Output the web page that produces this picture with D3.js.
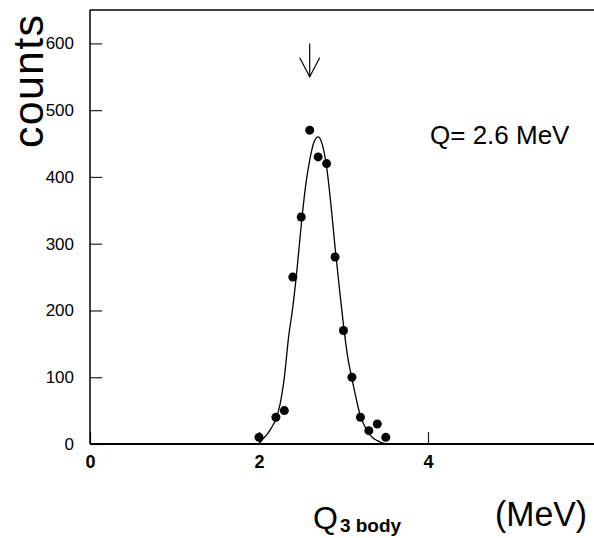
<!DOCTYPE html>
<html>
<head>
<meta charset="utf-8">
<script src="https://cdn.jsdelivr.net/npm/d3@7"></script>
<style>
  html, body { margin: 0; padding: 0; background: #fff; }
  svg { display: block; }
  text { font-family: "Liberation Sans", Arial, sans-serif; fill: #000; }
</style>
</head>
<body>
<svg id="chart" width="594" height="538"></svg>
<script>
// Measured counts per Q bin (MeV)
const qValues   = [2.0, 2.2, 2.3, 2.4, 2.5, 2.6, 2.7, 2.8, 2.9, 3.0, 3.1, 3.2, 3.3, 3.4, 3.5];
const counts    = [10, 40, 50, 250, 340, 470, 430, 420, 280, 170, 100, 40, 20, 30, 10];

// Fitted peak shape, sampled along Q
const fitQ      = [2.00, 2.05, 2.10, 2.15, 2.20, 2.25, 2.30, 2.35, 2.40, 2.45, 2.50, 2.55, 2.60, 2.65, 2.70,
                   2.75, 2.80, 2.85, 2.90, 2.95, 3.00, 3.05, 3.10, 3.15, 3.20, 3.25, 3.30, 3.35, 3.40, 3.45, 3.50];
const fitCounts = [0, 8, 15, 25, 37, 60, 100, 160, 205, 262, 328, 385, 425, 452, 460,
                   448, 415, 360, 295, 235, 178, 130, 98, 68, 42, 27, 16, 9, 5, 2, 0];

// Axis ticks
const xMajorTicks = [0, 2, 4];
const xMinorTicks = [0.5, 1, 1.5, 2.5, 3, 3.5, 4.5, 5, 5.5];
const yMajorTicks = [0, 100, 200, 300, 400, 500, 600];
const yMinorTicks = d3.range(20, 650, 20).filter(v => v % 100 !== 0);

// Marked Q value
const qMarked = 2.6;
const qLabel = "Q= 2.6 MeV";

const svg = d3.select("#chart");
const x = d3.scaleLinear().domain([0, 6]).range([90, 597]);
const y = d3.scaleLinear().domain([0, 650]).range([444, 10]);

// Axes: ticks point inward
const gx = svg.append("g").attr("transform", `translate(0,${y(0)})`);
gx.call(d3.axisBottom(x).tickValues(xMinorTicks).tickSize(-6).tickFormat(""));
gx.call(d3.axisBottom(x).tickValues(xMajorTicks).tickSize(-12).tickPadding(11).tickFormat(d3.format("d")));
gx.selectAll(".domain").remove();
gx.selectAll("line").attr("stroke", "#222").attr("stroke-width", 1.2);
gx.selectAll("text")
  .attr("font-size", 18).attr("font-weight", "bold")
  .style("font-family", "'Liberation Sans', Arial, sans-serif");

const gy = svg.append("g").attr("transform", `translate(${x(0)},0)`);
gy.call(d3.axisLeft(y).tickValues(yMinorTicks).tickSize(-6).tickFormat(""));
gy.call(d3.axisLeft(y).tickValues(yMajorTicks).tickSize(-12).tickPadding(16).tickFormat(d3.format("d")));
gy.selectAll(".domain").remove();
gy.selectAll("line").attr("stroke", "#222").attr("stroke-width", 1.2);
gy.selectAll("text")
  .attr("font-size", 17)
  .style("font-family", "'Liberation Sans', Arial, sans-serif");

// Frame
const frame = svg.append("g").attr("fill", "none").attr("stroke", "#000");
frame.append("line").attr("x1", x(0)).attr("x2", x(0)).attr("y1", y(650)).attr("y2", y(0)).attr("stroke-width", 1.5);
frame.append("line").attr("x1", x(0)).attr("x2", x(6)).attr("y1", y(0)).attr("y2", y(0)).attr("stroke-width", 2);
frame.append("line").attr("x1", x(0)).attr("x2", x(6)).attr("y1", y(650)).attr("y2", y(650)).attr("stroke-width", 1.5);
frame.append("line").attr("x1", x(6)).attr("x2", x(6)).attr("y1", y(650)).attr("y2", y(0)).attr("stroke-width", 1.5);

// Fit curve
const line = d3.line()
  .x((d, i) => x(fitQ[i]))
  .y(d => y(d))
  .curve(d3.curveMonotoneX);
svg.append("path")
  .datum(fitCounts)
  .attr("d", line)
  .attr("fill", "none")
  .attr("stroke", "#000")
  .attr("stroke-width", 1.3);

// Data points
svg.append("g").selectAll("circle")
  .data(counts)
  .join("circle")
  .attr("cx", (d, i) => x(qValues[i]))
  .attr("cy", d => y(d))
  .attr("r", 4.5)
  .attr("fill", "#000");

// Arrow marking the Q value
const arrow = svg.append("g").attr("fill", "none").attr("stroke", "#000").attr("stroke-width", 1.2);
const ax = x(qMarked), aTop = y(600), aTip = y(550);
arrow.append("line").attr("x1", ax).attr("x2", ax).attr("y1", aTop).attr("y2", aTip);
arrow.append("path").attr("d", `M${ax - 10},${aTip - 19}L${ax},${aTip}L${ax + 10},${aTip - 19}`);

// Texts
svg.append("text")
  .attr("transform", "translate(43,148) rotate(-90)")
  .attr("font-size", 43)
  .attr("textLength", 133)
  .attr("lengthAdjust", "spacing")
  .text("counts");

svg.append("text")
  .attr("x", 430).attr("y", 144)
  .attr("font-size", 26)
  .text(qLabel);

const title = svg.append("text").attr("x", 313).attr("y", 529);
title.append("tspan").attr("font-size", 32).text("Q");
title.append("tspan").attr("font-size", 19).attr("font-weight", "bold").attr("dx", 2).attr("dy", 3).text("3 body");

svg.append("text")
  .attr("x", 495).attr("y", 526)
  .attr("font-size", 35)
  .attr("textLength", 92)
  .attr("lengthAdjust", "spacingAndGlyphs")
  .text("(MeV)");
</script>
</body>
</html>
